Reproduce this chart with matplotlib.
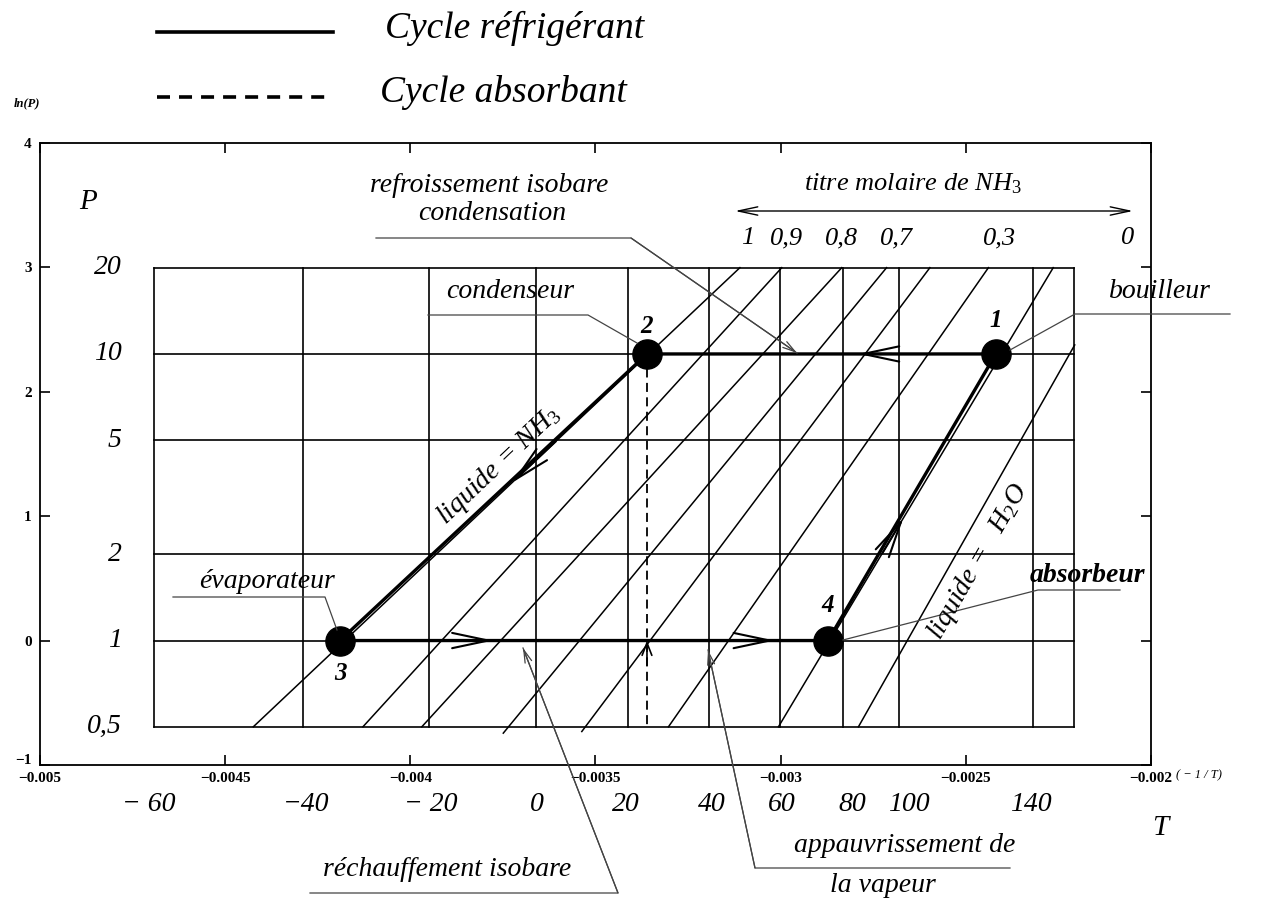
import numpy as np
import matplotlib
matplotlib.use('Agg')
import matplotlib.pyplot as plt
import matplotlib.transforms as mtransforms
from matplotlib.lines import Line2D

plt.rcParams['font.family'] = ['Liberation Serif', 'DejaVu Serif']
plt.rcParams['mathtext.fontset'] = 'custom'
plt.rcParams['mathtext.rm'] = 'Liberation Serif'
plt.rcParams['mathtext.it'] = 'Liberation Serif:italic'

# ---------------- data ----------------
# grid of the diagram : pressures (bar) and temperatures (degC)
p_levels = [0.5, 1, 2, 5, 10, 20]
p_labels = ['0,5', '1', '2', '5', '10', '20']
t_grid = [-60, -40, -20, 0, 20, 40, 60, 80, 100, 158, 180]

# temperature labels under the axis (label, position in -1/T)
t_labels = ['\u2212 60', '\u221240', '\u2212 20', '0', '20', '40', '60', '80', '100', '140']
t_label_x = [-0.004706, -0.004282, -0.003945, -0.003658, -0.003418, -0.003185,
             -0.002996, -0.002807, -0.002654, -0.002324]

# iso-composition lines (start / end in -1/T and ln P)
iso_x0 = [-0.004424, -0.004128, -0.003969, -0.003749, -0.003537, -0.003303, -0.003006, -0.002790]
iso_y0 = [-0.693, -0.693, -0.693, -0.744, -0.731, -0.693, -0.693, -0.693]
iso_x1 = [-0.003110, -0.002997, -0.002835, -0.002714, -0.002597, -0.002439, -0.002264, -0.002206]
iso_y1 = [2.996, 2.996, 2.996, 2.996, 2.996, 2.996, 2.996, 2.375]

# cycle points 1..4 (-1/T, ln P)
pt_names = ['1', '2', '3', '4']
pt_x = [-0.002419, -0.003361, -0.004190, -0.002872]
pt_y = [np.log(10), np.log(10), 0.0, 0.0]

# molar fraction labels
titre_labels = ['1', '0,9', '0,8', '0,7', '0,3', '0']
titre_px = [748, 787, 842, 897, 1000, 1128]

# ---------------- figure ----------------
W, H = 1264, 906
fig = plt.figure(figsize=(W / 100, H / 100), dpi=100)
ax = fig.add_axes([40 / W, 1 - 765 / H, (1151 - 40) / W, (765 - 142.7) / H])
ax.set_xlim(-0.005, -0.002)
ax.set_ylim(-1, 4)
ax.set_xticks(np.arange(-0.005, -0.00199, 0.0005))
ax.set_xticklabels(['\u22120.005', '\u22120.0045', '\u22120.004', '\u22120.0035',
                    '\u22120.003', '\u22120.0025', '\u22120.002'])
ax.set_yticks([-1, 0, 1, 2, 3, 4])
ax.set_yticklabels(['\u22121', '0', '1', '2', '3', '4'])
ax.tick_params(direction='in', length=7, width=1.2, top=True, right=True,
               labelsize=11, pad=5)
ax.tick_params(axis='y', pad=6)
for lab in ax.get_xticklabels() + ax.get_yticklabels():
    lab.set_fontweight('bold')
for s in ax.spines.values():
    s.set_linewidth(1.3)
# lift the "-1" label slightly so it does not sit on "-0.005"
ylabs = ax.get_yticklabels()
ylabs[0].set_transform(ylabs[0].get_transform() +
                       mtransforms.ScaledTranslation(0, 4 / 72, fig.dpi_scale_trans))


def fx(px):
    return px / W


def fy(py):
    return 1 - py / H


def tx(t):
    return -1.0 / (t + 273.15)


lnp = np.log(p_levels)
xl, xr = tx(t_grid[0]), tx(t_grid[-1])

# grid box
for t in t_grid:
    ax.plot([tx(t), tx(t)], [lnp[0], lnp[-1]], color='black', lw=1.2)
for v in lnp:
    ax.plot([xl, xr], [v, v], color='black', lw=1.2)

# iso-composition lines
for a, b, c, d in zip(iso_x0, iso_y0, iso_x1, iso_y1):
    ax.plot([a, c], [b, d], color='black', lw=1.1)

# refrigerant cycle 3 -> 4 -> 1 -> 2 -> 3
cx = [pt_x[2], pt_x[3], pt_x[0], pt_x[1], pt_x[2]]
cy = [pt_y[2], pt_y[3], pt_y[0], pt_y[1], pt_y[2]]
ax.plot(cx, cy, color='black', lw=2.4, solid_capstyle='round')
# absorbent cycle
ax.plot([pt_x[1], pt_x[1]], [pt_y[1], lnp[0]], color='black', lw=1.3, dashes=(5, 3))

ax.plot(pt_x, pt_y, 'o', color='black', ms=21, zorder=5)
offs = [(0, 24), (0, 20), (0, -24), (0, 25)]
for n, x, y, o in zip(pt_names, pt_x, pt_y, offs):
    ax.annotate(n, (x, y), xytext=o, textcoords='offset points', ha='center', va='center',
                fontsize=18, fontstyle='italic', fontweight='bold')


def on_line(i, y):
    f = (y - iso_y0[i]) / (iso_y1[i] - iso_y0[i])
    return iso_x0[i] + f * (iso_x1[i] - iso_x0[i])


def chevron(tip, back, hl=2.6, hw=0.55, lw=1.5):
    ax.annotate('', xy=tip, xytext=back,
                arrowprops=dict(arrowstyle='->,head_length=%g,head_width=%g' % (hl, hw),
                                lw=lw, color='black', shrinkA=0, shrinkB=0))


chevron((-0.003776, 0), (-0.003900, 0))
chevron((-0.003016, 0), (-0.003140, 0))
chevron((-0.002791, np.log(10)), (-0.002700, np.log(10)))
chevron((on_line(0, 1.267), 1.267), (on_line(0, 1.6), 1.6))
chevron((on_line(6, 0.985), 0.985), (on_line(6, 0.7), 0.7))
chevron((pt_x[1], 0.0), (pt_x[1], -0.2), hl=0.9, hw=0.35, lw=1.2)

# ---------------- texts ----------------
it = dict(fontstyle='italic')

# legend
fig.add_artist(Line2D([fx(157), fx(333)], [fy(32), fy(32)], color='black', lw=2.6))
fig.add_artist(Line2D([fx(157), fx(330)], [fy(97), fy(97)], color='black', lw=2.6,
                      dashes=(3.6, 2.5)))
fig.text(fx(385), fy(28), 'Cycle r\u00e9frig\u00e9rant', fontsize=27, va='center', **it)
fig.text(fx(380), fy(93), 'Cycle absorbant', fontsize=27, va='center', **it)

fig.text(fx(27), fy(103), 'ln(P)', fontsize=9, ha='center', va='center',
         fontweight='bold', **it)
fig.text(fx(88), fy(202), 'P', fontsize=21, ha='center', va='center', **it)
fig.text(fx(1160), fy(828), 'T', fontsize=21, ha='center', va='center', **it)
fig.text(fx(1199), fy(775), '( \u2212 1 / T)', fontsize=9, ha='center', va='center', **it)

for lab, v in zip(p_labels, lnp):
    ax.text(-0.00478, v, lab, ha='right', va='center', fontsize=20, **it)

for lab, x in zip(t_labels, t_label_x):
    ax.text(x, -1.32, lab, ha='center', va='center', fontsize=20, **it)

for lab, px in zip(titre_labels, titre_px):
    fig.text(fx(px), fy(238), lab, ha='center', va='center', fontsize=19, **it)
fig.text(fx(913), fy(184), 'titre molaire de NH$_{\\mathit{3}}$', ha='center', va='center',
         fontsize=19, **it)
ax.annotate('', xy=(fx(735), fy(211)), xycoords='figure fraction',
            xytext=(fx(1133), fy(211)), textcoords='figure fraction',
            arrowprops=dict(arrowstyle='<->,head_length=1.4,head_width=0.3', lw=1.0,
                            color='black', shrinkA=0, shrinkB=0), annotation_clip=False)

# annotation texts
fig.text(fx(489), fy(185), 'refroissement isobare', ha='center', va='center', fontsize=20, **it)
fig.text(fx(492), fy(213), 'condensation', ha='center', va='center', fontsize=20, **it)
fig.text(fx(510), fy(292), 'condenseur', ha='center', va='center', fontsize=20, **it)
fig.text(fx(1160), fy(292), 'bouilleur', ha='center', va='center', fontsize=20, **it)
fig.text(fx(267), fy(581), '\u00e9vaporateur', ha='center', va='center', fontsize=20, **it)
fig.text(fx(1087), fy(576), 'absorbeur', ha='center', va='center', fontsize=20,
         fontweight='bold', **it)
fig.text(fx(447), fy(870), 'r\u00e9chauffement isobare', ha='center', va='center', fontsize=20, **it)
fig.text(fx(905), fy(845), 'appauvrissement de', ha='center', va='center', fontsize=20, **it)
fig.text(fx(883), fy(886), 'la vapeur', ha='center', va='center', fontsize=20, **it)
fig.text(fx(499), fy(466), 'liquide = NH$_{\\mathit{3}}$', ha='center', va='center',
         fontsize=20, rotation=43.5, rotation_mode='anchor', **it)
fig.text(fx(978), fy(562), 'liquide =   H$_{\\mathit{2}}$O', ha='center', va='center',
         fontsize=20, rotation=60, rotation_mode='anchor', **it)

# leader lines
lead = dict(color='#444444', lw=0.9)
leaders = [
    ([376, 631, 797], [238, 238, 353]),
    ([428, 588, 637], [315, 315, 343]),
    ([1230, 1075, 1010], [314, 314, 350]),
    ([173, 325, 337], [597, 597, 630]),
    ([1120, 1038, 843], [590, 590, 640]),
    ([310, 618, 523], [893, 893, 648]),
    ([1010, 755, 708], [868, 868, 650]),
]
for xs, ys in leaders:
    fig.add_artist(Line2D([fx(v) for v in xs], [fy(v) for v in ys],
                          transform=fig.transFigure, **lead))
for xs, ys in [leaders[0], leaders[5], leaders[6]]:
    ax.annotate('', xy=(fx(xs[2]), fy(ys[2])), xycoords='figure fraction',
                xytext=(fx(xs[1]), fy(ys[1])), textcoords='figure fraction',
                arrowprops=dict(arrowstyle='->,head_length=0.9,head_width=0.25', lw=0.9,
                                color='#444444', shrinkA=0, shrinkB=0),
                annotation_clip=False)

fig.savefig('out.png', dpi=100)
